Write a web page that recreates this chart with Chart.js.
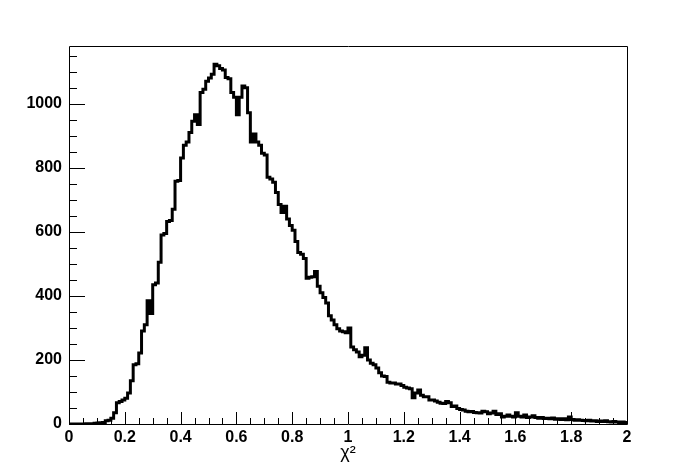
<!DOCTYPE html>
<html>
<head>
<meta charset="utf-8">
<script src="https://cdn.jsdelivr.net/npm/chart.js@4/dist/chart.umd.min.js"></script>
<style>
  html, body { margin: 0; padding: 0; background: #fff; }
  #wrap { width: 696px; height: 472px; }
</style>
</head>
<body>
<div id="wrap"><canvas id="c" width="696" height="472"></canvas></div>
<script>
// Histogram: chi^2 distribution, 200 bins from 0 to 2
const xMin = 0;
const xMax = 2;
const yMax = 1180;
const xTickValues = [0, 0.2, 0.4, 0.6, 0.8, 1, 1.2, 1.4, 1.6, 1.8, 2];
const xTickLabels = ["0", "0.2", "0.4", "0.6", "0.8", "1", "1.2", "1.4", "1.6", "1.8", "2"];
const yTickValues = [0, 200, 400, 600, 800, 1000];
const yTickLabels = ["0", "200", "400", "600", "800", "1000"];
const xTitle = "\u03c7\u00b2";
const counts = [
  0, 0, 0, 0, 0, 0, 1, 0, 1, 2,
  3, 4, 5, 10, 12, 18, 35, 66, 70, 75,
  80, 97, 135, 185, 188, 222, 290, 310, 385, 345,
  435, 440, 505, 590, 595, 632, 635, 670, 758, 760,
  830, 870, 880, 910, 945, 965, 935, 1035, 1045, 1070,
  1080, 1092, 1123, 1118, 1110, 1105, 1082, 1078, 1035, 1020,
  965, 1020, 1055, 1050, 972, 880, 905, 880, 870, 845,
  840, 770, 765, 755, 723, 685, 660, 680, 640, 620,
  605, 570, 535, 530, 517, 455, 458, 460, 476, 430,
  410, 395, 378, 338, 325, 310, 297, 290, 288, 285,
  300, 240, 232, 225, 210, 215, 238, 200, 190, 185,
  175, 160, 150, 148, 130, 128, 128, 125, 125, 120,
  115, 112, 110, 82, 97, 106, 90, 85, 85, 75,
  75, 72, 68, 65, 64, 70, 66, 55, 56, 48,
  45, 44, 40, 38, 39, 36, 35, 34, 40, 38,
  32, 34, 40, 30, 32, 22, 24, 28, 24, 22,
  35, 24, 22, 28, 20, 22, 26, 20, 18, 20,
  17, 18, 16, 19, 15, 16, 14, 16, 13, 22,
  14, 12, 13, 12, 11, 10, 12, 9, 10, 8,
  9, 8, 10, 7, 6, 8, 6, 5, 6, 5
];

const nBins = counts.length;
const binW = (xMax - xMin) / nBins;
const points = counts.map((v, i) => ({ x: xMin + i * binW, y: v }));
points.push({ x: xMax, y: counts[nBins - 1] });

const framePlugin = {
  id: 'rootFrame',
  afterDatasetsDraw(chart) {
    const { ctx, chartArea: a, scales } = chart;
    const xs = scales.x, ys = scales.y;
    ctx.save();
    ctx.strokeStyle = '#000';
    ctx.lineWidth = 1;
    ctx.beginPath();
    ctx.rect(a.left + 0.5, a.top + 0.5, a.right - a.left, a.bottom - a.top);
    ctx.stroke();
    ctx.beginPath();
    // x ticks every 0.05, major every 0.2
    for (let k = 0; k <= 40; k++) {
      const v = k * 0.05;
      const px = Math.round(xs.getPixelForValue(v)) + 0.5;
      const len = (k % 4 === 0) ? 12 : 6;
      ctx.moveTo(px, a.bottom);
      ctx.lineTo(px, a.bottom - len);
    }
    // y ticks every 50, major every 200
    for (let k = 0; k * 50 <= yMax; k++) {
      const v = k * 50;
      const py = Math.round(ys.getPixelForValue(v)) + 0.5;
      const len = (k % 4 === 0) ? 16 : 8;
      ctx.moveTo(a.left, py);
      ctx.lineTo(a.left + len, py);
    }
    ctx.stroke();
    ctx.restore();
  }
};

new Chart(document.getElementById('c'), {
  type: 'line',
  data: {
    datasets: [{
      data: points,
      stepped: true,
      borderColor: '#000',
      borderWidth: 3,
      pointRadius: 0,
      fill: false,
      tension: 0
    }]
  },
  options: {
    responsive: false,
    animation: false,
    events: [],
    layout: { padding: { left: 0, right: 69, top: 46, bottom: 0 } },
    plugins: { legend: { display: false }, tooltip: { enabled: false } },
    scales: {
      x: {
        type: 'linear',
        min: xMin,
        max: xMax,
        afterFit(s) { s.height = 48; },
        afterBuildTicks(s) { s.ticks = xTickValues.map(v => ({ value: v })); },
        grid: { display: false, drawTicks: false },
        border: { display: false },
        ticks: {
          padding: 4,
          maxRotation: 0,
          autoSkip: false,
          color: '#000',
          font: { family: 'Liberation Sans', size: 16, weight: 'bold' },
          callback(v, i) { return xTickLabels[i]; }
        },
        title: {
          display: true,
          text: xTitle,
          color: '#000',
          font: { family: 'Liberation Sans', size: 18 },
          padding: { top: 0, bottom: 8 }
        }
      },
      y: {
        type: 'linear',
        min: 0,
        max: yMax,
        afterFit(s) { s.width = 69; },
        afterBuildTicks(s) { s.ticks = yTickValues.map(v => ({ value: v })); },
        grid: { display: false, drawTicks: false },
        border: { display: false },
        ticks: {
          padding: 7,
          autoSkip: false,
          color: '#000',
          font: { family: 'Liberation Sans', size: 16, weight: 'bold' },
          callback(v, i) { return yTickLabels[i]; }
        }
      }
    }
  },
  plugins: [framePlugin]
});
</script>
</body>
</html>
